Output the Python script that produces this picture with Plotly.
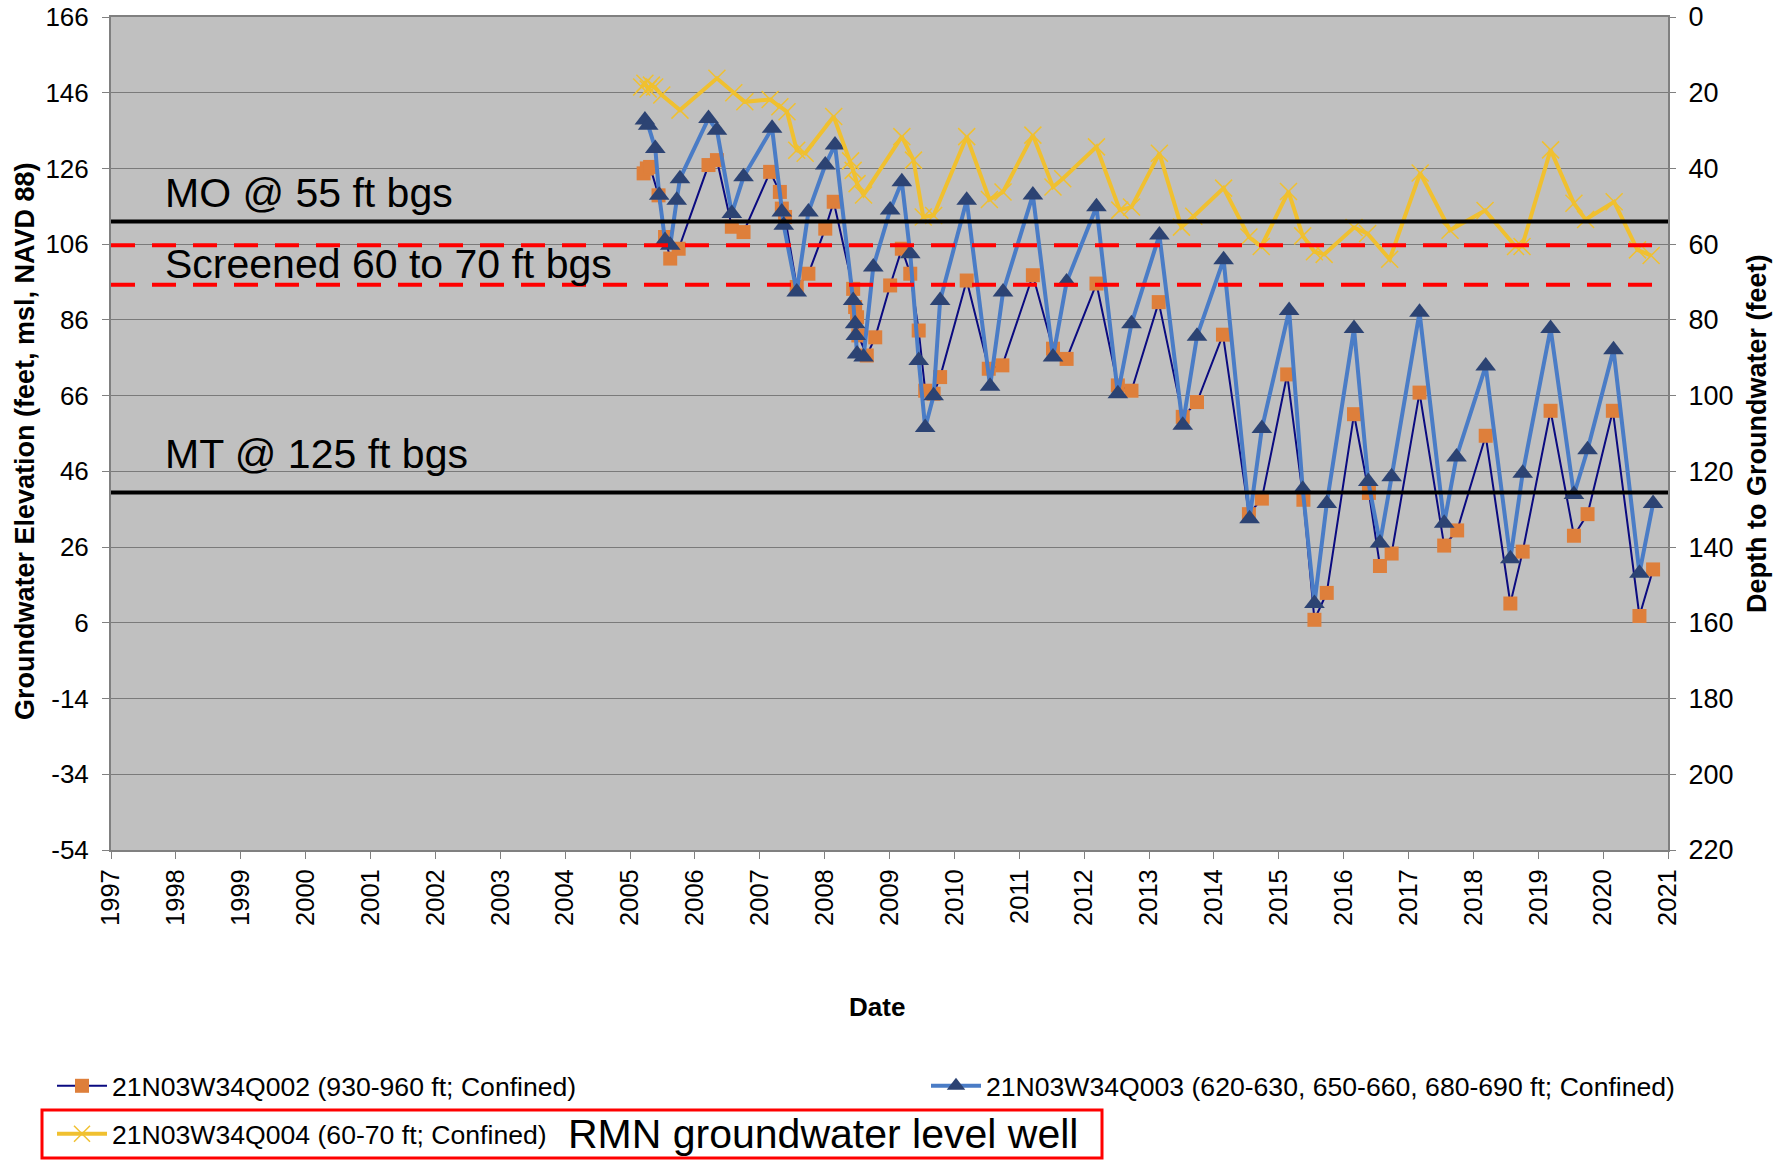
import plotly.graph_objects as go

# ---------------- data ----------------
year_ticks = list(range(1997, 2022))
year_labels = [str(y) for y in year_ticks]
elev_ticks = [-54, -34, -14, 6, 26, 46, 66, 86, 106, 126, 146, 166]
elev_labels = [str(v) for v in elev_ticks]
depth_ticks = [0, 20, 40, 60, 80, 100, 120, 140, 160, 180, 200, 220]
depth_labels = [str(v) for v in depth_ticks]

# 21N03W34Q002 (930-960 ft; Confined)
q002_t = [2005.21, 2005.26, 2005.31, 2005.44, 2005.54, 2005.62, 2005.75,
          2006.21, 2006.34, 2006.57, 2006.75, 2007.16, 2007.31, 2007.34, 2007.39,
          2007.57, 2007.75, 2008.01, 2008.14, 2008.44, 2008.47, 2008.50, 2008.52,
          2008.65, 2008.78, 2009.01, 2009.19, 2009.32, 2009.45, 2009.55, 2009.68,
          2009.78, 2010.19, 2010.53, 2010.74, 2011.21, 2011.52, 2011.73, 2012.19,
          2012.52, 2012.73, 2013.15, 2013.52, 2013.74, 2014.14, 2014.54, 2014.74,
          2015.13, 2015.38, 2015.55, 2015.74, 2016.16, 2016.39, 2016.56, 2016.74,
          2017.17, 2017.55, 2017.75, 2018.19, 2018.57, 2018.76, 2019.19, 2019.55,
          2019.76, 2020.15, 2020.56, 2020.77]
q002_v = [124.7, 126.0, 126.4, 118.9, 107.9, 102.2, 104.8,
          126.9, 128.2, 110.6, 109.2, 125.1, 119.8, 115.4, 113.2,
          94.7, 98.2, 110.1, 117.2, 94.2, 89.4, 86.7, 81.9,
          76.6, 81.4, 95.1, 104.8, 98.2, 83.2, 67.3, 66.5,
          70.9, 96.4, 73.1, 74.0, 97.8, 78.4, 75.7, 95.6,
          68.7, 67.3, 90.7, 60.4, 64.3, 82.1, 34.7, 38.8,
          71.6, 38.5, 6.8, 13.9, 61.1, 40.3, 21.0, 24.3,
          66.8, 26.4, 30.4, 55.4, 11.1, 24.8, 62.0, 29.0,
          34.7, 62.0, 7.8, 20.1]

# 21N03W34Q003 (620-630, 650-660, 680-690 ft; Confined)
q003_t = [2005.23, 2005.28, 2005.39, 2005.45, 2005.54, 2005.62, 2005.72, 2005.77,
          2006.21, 2006.34, 2006.57, 2006.75, 2007.19, 2007.34, 2007.37, 2007.57,
          2007.75, 2008.01, 2008.16, 2008.44, 2008.47, 2008.48, 2008.50, 2008.60,
          2008.75, 2009.01, 2009.19, 2009.32, 2009.45, 2009.55, 2009.68, 2009.78,
          2010.19, 2010.55, 2010.75, 2011.21, 2011.52, 2011.73, 2012.19, 2012.52,
          2012.73, 2013.16, 2013.52, 2013.74, 2014.15, 2014.55, 2014.74, 2015.16,
          2015.37, 2015.55, 2015.74, 2016.16, 2016.38, 2016.56, 2016.74, 2017.17,
          2017.55, 2017.74, 2018.19, 2018.57, 2018.76, 2019.19, 2019.55, 2019.76,
          2020.16, 2020.56, 2020.77]
q003_v = [138.8, 137.4, 131.3, 118.9, 107.0, 105.7, 117.6, 123.3,
          139.2, 136.1, 114.1, 123.8, 136.6, 114.5, 111.0, 93.4,
          114.5, 126.9, 132.2, 91.1, 85.0, 81.9, 77.0, 76.2,
          100.0, 115.0, 122.5, 103.5, 75.3, 57.6, 66.0, 91.1,
          117.6, 68.5, 93.4, 119.0, 76.2, 96.0, 115.9, 66.5,
          85.0, 108.4, 58.2, 81.7, 101.9, 33.5, 57.3, 88.5,
          41.3, 11.1, 37.5, 83.7, 43.3, 27.1, 44.6, 88.0,
          32.3, 49.8, 73.8, 22.9, 45.5, 83.7, 39.9, 51.7,
          78.1, 19.1, 37.5]

# 21N03W34Q004 (60-70 ft; Confined)
q004_t = [2005.18, 2005.23, 2005.28, 2005.33, 2005.38, 2005.49, 2005.77,
          2006.34, 2006.60, 2006.77, 2007.16, 2007.31, 2007.42, 2007.57, 2007.70,
          2008.14, 2008.40, 2008.44, 2008.50, 2008.60, 2009.19, 2009.37, 2009.52,
          2009.68, 2010.19, 2010.54, 2010.75, 2011.21, 2011.52, 2011.67, 2012.19,
          2012.55, 2012.73, 2013.16, 2013.50, 2013.69, 2014.15, 2014.54, 2014.73,
          2015.15, 2015.37, 2015.55, 2015.70, 2016.16, 2016.37, 2016.71, 2017.18,
          2017.64, 2018.18, 2018.65, 2018.75, 2019.19, 2019.55, 2019.73, 2020.17,
          2020.53, 2020.74]
q004_v = [147.5, 148.5, 147.0, 148.0, 147.5, 145.4, 141.4,
          149.8, 146.0, 143.6, 144.2, 142.3, 141.0, 130.8, 130.0,
          139.7, 128.0, 125.5, 122.0, 119.0, 134.4, 128.2, 113.2,
          113.6, 134.4, 117.8, 119.8, 134.8, 121.1, 123.3, 131.7,
          115.0, 115.8, 130.0, 110.5, 113.4, 120.8, 107.9, 105.4,
          119.9, 108.2, 104.0, 103.3, 110.4, 108.8, 102.0, 124.8,
          109.7, 114.9, 105.4, 105.4, 130.9, 116.8, 112.5, 117.2,
          104.5, 103.0]

# reference depths (ft bgs) on the right axis
mo_depth = [54, 54]
mt_depth = [125.6, 125.6]
screen_top = [60.3, 60.3]
screen_bot = [70.7, 70.7]
ref_x = [1997, 2021]

names = ["21N03W34Q002 (930-960 ft; Confined)",
         "21N03W34Q003 (620-630, 650-660, 680-690 ft; Confined)",
         "21N03W34Q004 (60-70 ft; Confined)"]

# ---------------- figure ----------------
# page body margin is removed (post_script) so figure pixels = page pixels
W, H = 1789, 1162
L, R, T, B = 111, 121, 17, 312
PW, PH = W - L - R, H - T - B


def px_x(p):
    return (p - L) / PW


def px_y(p):
    return (H - B - p) / PH


FONT = "Arial, Liberation Sans, sans-serif"
fig = go.Figure()

fig.add_trace(go.Scatter(
    x=q002_t, y=q002_v, name=names[0], mode="lines+markers",
    line=dict(color="#0A0A80", width=2),
    marker=dict(symbol="square", size=14, color="#DE7F3B"),
    legend="legend"))

fig.add_trace(go.Scatter(
    x=q003_t, y=q003_v, name=names[1], mode="lines+markers",
    line=dict(color="#4A7CC6", width=4),
    marker=dict(symbol="triangle-up", size=18, color="#2C4373"),
    legend="legend2"))

fig.add_trace(go.Scatter(
    x=q004_t, y=q004_v, name=names[2], mode="lines+markers",
    line=dict(color="#F0C030", width=4),
    marker=dict(symbol="x-thin", size=17, color="#F0C030",
                line=dict(color="#F0C030", width=1.5)),
    legend="legend3"))

for yy, col, dash, wd in [(mo_depth, "black", "solid", 4),
                          (mt_depth, "black", "solid", 4),
                          (screen_top, "#FF0000", "24px,17px", 4),
                          (screen_bot, "#FF0000", "24px,17px", 4)]:
    fig.add_trace(go.Scatter(x=ref_x, y=yy, yaxis="y2", mode="lines",
                             line=dict(color=col, width=wd, dash=dash),
                             showlegend=False, hoverinfo="skip"))

fig.update_layout(
    width=W, height=H,
    margin=dict(l=L, r=R, t=T, b=B, autoexpand=False),
    paper_bgcolor="white", plot_bgcolor="#C0C0C0",
    font=dict(family=FONT, size=24, color="black"),
    xaxis=dict(range=[1997, 2021], tickmode="array", tickvals=year_ticks,
               ticktext=year_labels, tickangle=-90, ticks="outside",
               ticklen=7, tickcolor="#808080", showgrid=False,
               showline=True, linecolor="#808080", linewidth=2, mirror=True,
               zeroline=False, ticklabelstandoff=0,
               ticklabeloverflow="allow",
               tickfont=dict(size=25.5)),
    yaxis=dict(range=[-54, 166], tickmode="array", tickvals=elev_ticks,
               ticktext=elev_labels,
               ticks="outside", ticklen=7, tickcolor="#808080",
               showgrid=True, gridcolor="#7A7A7A", gridwidth=1,
               showline=True, linecolor="#808080", linewidth=2, mirror=True,
               zeroline=False, ticklabelstandoff=8,
               ticklabeloverflow="allow", tickfont=dict(size=26)),
    yaxis2=dict(range=[220, 0], overlaying="y", side="right",
                tickmode="array", tickvals=depth_ticks, ticktext=depth_labels,
                ticks="outside",
                ticklen=7, tickcolor="#808080", showgrid=False,
                showline=False, zeroline=False, ticklabelstandoff=7,
                ticklabeloverflow="allow", tickfont=dict(size=27)),
    legend=dict(x=px_x(52), y=px_y(1086), xanchor="left", yanchor="middle",
                bgcolor="rgba(0,0,0,0)", font=dict(size=26.6), itemwidth=50),
    legend2=dict(x=px_x(926), y=px_y(1086), xanchor="left", yanchor="middle",
                 bgcolor="rgba(0,0,0,0)", font=dict(size=26.6), itemwidth=50),
    legend3=dict(x=px_x(52), y=px_y(1134), xanchor="left", yanchor="middle",
                 bgcolor="rgba(0,0,0,0)", font=dict(size=26.6), itemwidth=50),
    showlegend=True,
)

# axis titles
fig.add_annotation(x=px_x(877), y=px_y(1007), xref="paper", yref="paper",
                   text="<b>Date</b>", showarrow=False,
                   xanchor="center", yanchor="middle", font=dict(size=26))
fig.add_annotation(x=px_x(25), y=px_y(441), xref="paper", yref="paper",
                   text="<b>Groundwater Elevation (feet, msl, NAVD 88)</b>",
                   showarrow=False, textangle=-90,
                   xanchor="center", yanchor="middle", font=dict(size=27))
fig.add_annotation(x=px_x(1757), y=px_y(434), xref="paper", yref="paper",
                   text="<b>Depth to Groundwater (feet)</b>",
                   showarrow=False, textangle=-90,
                   xanchor="center", yanchor="middle", font=dict(size=27))

# in-plot labels
for txt, yv in [("MO @ 55 ft bgs", 119.5), ("Screened 60 to 70 ft bgs", 100.8),
                ("MT @ 125 ft bgs", 50.6)]:
    fig.add_annotation(x=1997.8, y=yv, xref="x", yref="y", text=txt,
                       showarrow=False, xanchor="left", yanchor="middle",
                       font=dict(size=41, color="black"))

# RMN label and red box
fig.add_annotation(x=px_x(566), y=px_y(1134), xref="paper", yref="paper",
                   text="RMN groundwater level well", showarrow=False,
                   xanchor="left", yanchor="middle",
                   font=dict(size=41, color="black"))
fig.add_shape(type="rect", xref="paper", yref="paper",
              x0=px_x(42), x1=px_x(1102), y0=px_y(1158), y1=px_y(1110),
              line=dict(color="#FF0000", width=3))

fig.write_html("out.html",
               config={"displayModeBar": False},
               post_script="document.body.style.margin='0px';"
                           "document.body.style.overflow='hidden';")
